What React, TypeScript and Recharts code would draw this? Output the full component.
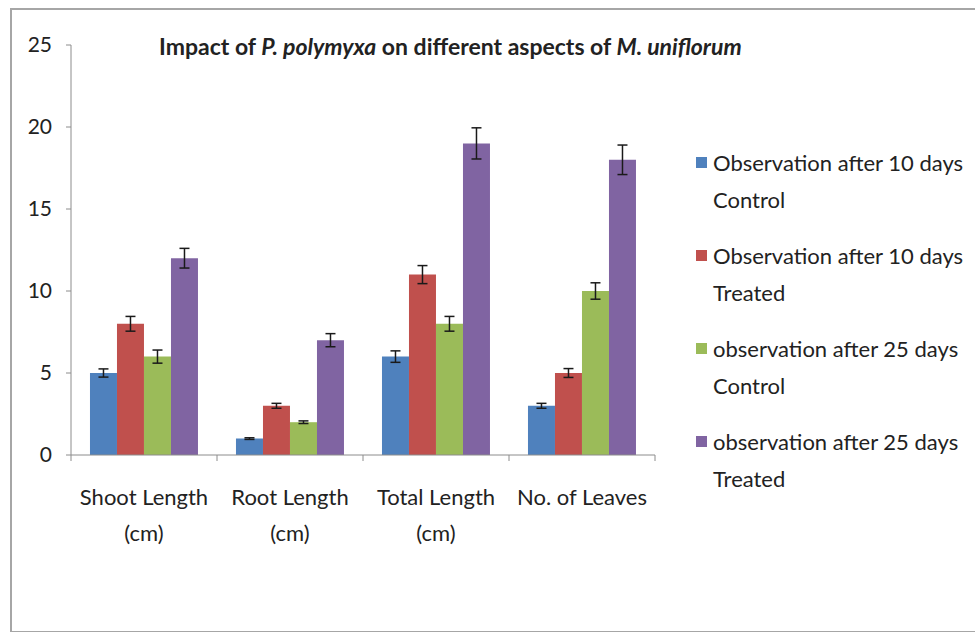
import { BarChart, Bar, XAxis, YAxis, ErrorBar } from "recharts";

const categories = [
  ["Shoot Length", "(cm)"],
  ["Root Length", "(cm)"],
  ["Total Length", "(cm)"],
  ["No. of Leaves"],
];

const seriesLabels = [
  ["Observation after 10 days", "Control"],
  ["Observation after 10 days", "Treated"],
  ["observation after 25 days", "Control"],
  ["observation after 25 days", "Treated"],
];
const seriesColors = ["#4F81BD", "#C0504D", "#9BBB59", "#8064A2"];

const ctrl10 = [5, 1, 6, 3];
const ctrl10Err = [0.25, 0.05, 0.35, 0.15];
const treat10 = [8, 3, 11, 5];
const treat10Err = [0.45, 0.15, 0.55, 0.27];
const ctrl25 = [6, 2, 8, 10];
const ctrl25Err = [0.4, 0.08, 0.45, 0.5];
const treat25 = [12, 7, 19, 18];
const treat25Err = [0.6, 0.4, 0.95, 0.9];

const yTicks = [0, 5, 10, 15, 20, 25];

const data = categories.map((c, i) => ({
  name: c.join(" "),
  s0: ctrl10[i],
  e0: ctrl10Err[i],
  s1: treat10[i],
  e1: treat10Err[i],
  s2: ctrl25[i],
  e2: ctrl25Err[i],
  s3: treat25[i],
  e3: treat25Err[i],
}));

const FONT = "Lato, 'Open Sans', sans-serif";
const TEXT = "#222";
const AXIS = "#8c8c8c";

function CategoryTick(props: any) {
  const { x, y, payload, index, width } = props;
  const half = payload?.offset ?? width / (2 * categories.length);
  const lines = categories[index] ?? [];
  return (
    <g>
      <line x1={x - half} x2={x - half} y1={y - 6} y2={y} stroke={AXIS} />
      {index === categories.length - 1 && (
        <line x1={x + half} x2={x + half} y1={y - 6} y2={y} stroke={AXIS} />
      )}
      <text x={x} y={y} textAnchor="middle" fill={TEXT} fontSize={22} fontFamily={FONT}>
        {lines.map((l, i) => (
          <tspan key={i} x={x} dy={i === 0 ? 44 : 36}>
            {l}
          </tspan>
        ))}
      </text>
    </g>
  );
}

export default function App() {
  return (
    <div
      style={{
        position: "absolute",
        left: 0,
        top: 0,
        width: 975,
        height: 632,
        overflow: "hidden",
        background: "#fff",
        fontFamily: FONT,
      }}
    >
      <div
        style={{
          position: "absolute",
          left: 10,
          top: 8,
          width: 1000,
          height: 621,
          border: "2px solid #a6a6a6",
        }}
      />
      <div
        style={{
          position: "absolute",
          left: 159,
          top: 32,
          fontSize: 23,
          fontWeight: "bold",
          color: TEXT,
          whiteSpace: "nowrap",
        }}
      >
        Impact of <i>P. polymyxa</i> on different aspects of <i>M. uniflorum</i>
      </div>
      <div style={{ position: "absolute", left: 0, top: 0 }}>
        <BarChart
          width={975}
          height={632}
          data={data}
          margin={{ top: 45, right: 320, bottom: 87, left: 0 }}
          barCategoryGap="13%"
          barGap={0}
        >
          <XAxis
            dataKey="name"
            axisLine={{ stroke: AXIS }}
            tickLine={false}
            tickSize={6}
            tickMargin={0}
            tick={<CategoryTick />}
            interval={0}
            height={90}
          />
          <YAxis
            domain={[0, 25]}
            ticks={yTicks}
            width={71}
            axisLine={{ stroke: AXIS }}
            tickLine={{ stroke: AXIS }}
            tickSize={5}
            tickMargin={14}
            tick={{ fill: TEXT, fontSize: 21, fontFamily: FONT }}
          />
          {seriesColors.map((c, i) => (
            <Bar key={i} dataKey={`s${i}`} fill={c} isAnimationActive={false}>
              <ErrorBar dataKey={`e${i}`} width={5} stroke="#1a1a1a" strokeWidth={1.5} />
            </Bar>
          ))}
        </BarChart>
      </div>
      <div style={{ position: "absolute", left: 696, top: 144 }}>
        {seriesLabels.map((lines, i) => (
          <div key={i} style={{ position: "relative", height: 93, fontSize: 22, lineHeight: "37px", color: TEXT }}>
            <span
              style={{
                position: "absolute",
                left: 0,
                top: 13,
                width: 11,
                height: 11,
                background: seriesColors[i],
              }}
            />
            <div style={{ marginLeft: 17, whiteSpace: "nowrap" }}>
              {lines.map((l, j) => (
                <div key={j}>{l}</div>
              ))}
            </div>
          </div>
        ))}
      </div>
    </div>
  );
}
